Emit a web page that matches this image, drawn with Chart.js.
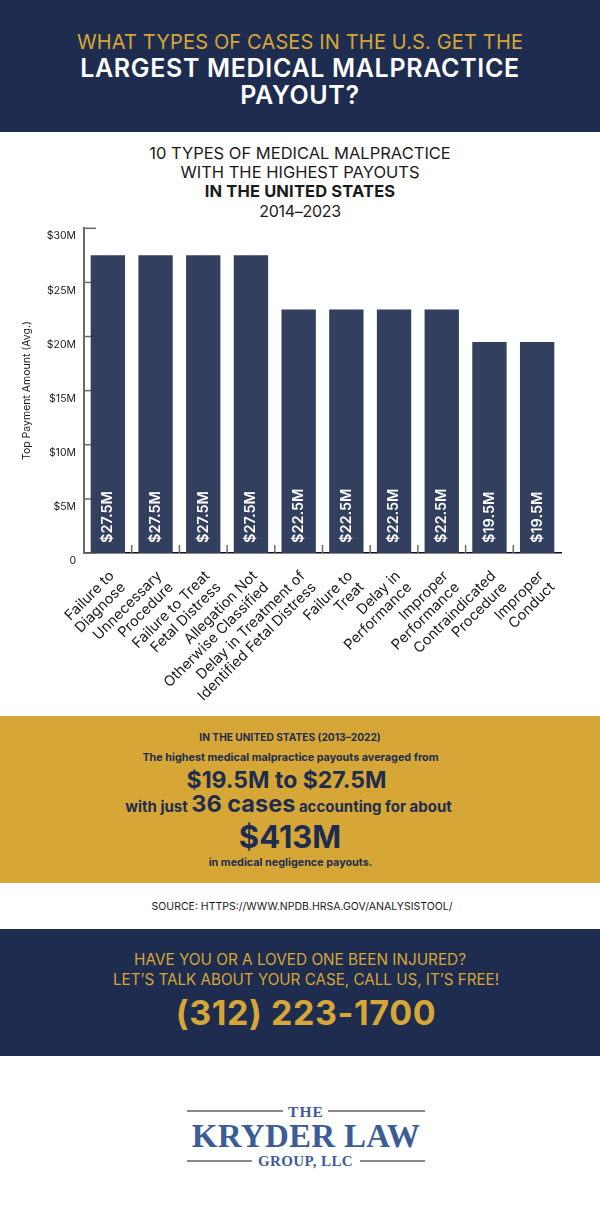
<!DOCTYPE html>
<html>
<head>
<meta charset="utf-8">
<title>Medical malpractice payouts</title>
<script src="https://cdn.jsdelivr.net/npm/chart.js@4"></script>
<style>
  html, body { margin: 0; padding: 0; background: #fff; }
  body { position: relative; width: 600px; height: 1219px; overflow: hidden; font-family: Inter, "Open Sans", sans-serif; }
  .band { position: absolute; left: 0; width: 600px; }
  .line { position: absolute; left: 0; width: 600px; text-align: center; white-space: nowrap; }
  #top { top: 0; height: 132px; background: #1e2d4f; }
  #gold { top: 716px; height: 167px; background: #d6a636; color: #1e2d4f; font-weight: 700; }
  #bottom { top: 929px; height: 127px; background: #1e2d4f; color: #d6a636; }
  #chartBox { position: absolute; left: 0; top: 222px; width: 600px; height: 490px; }
  .logo { font-family: "Liberation Serif", serif; font-weight: 700; color: #3c5c97; }
  .rule { position: absolute; height: 2px; background: #8a8a8a; }
</style>
</head>
<body>
<div class="band" id="top">
  <div class="line" style="top:30px;font-size:20px;color:#d6a636;letter-spacing:.15px">WHAT TYPES OF CASES IN THE U.S. GET THE</div>
  <div class="line" style="top:53px;font-size:25px;font-weight:600;color:#fff;letter-spacing:.67px">LARGEST MEDICAL MALPRACTICE</div>
  <div class="line" style="top:80px;font-size:25px;font-weight:600;color:#fff;letter-spacing:.67px">PAYOUT?</div>
</div>

<div class="line" style="top:143px;font-size:16.5px;color:#1a1a1a">10 TYPES OF MEDICAL MALPRACTICE</div>
<div class="line" style="top:162px;font-size:16.5px;color:#1a1a1a">WITH THE HIGHEST PAYOUTS</div>
<div class="line" style="top:181px;font-size:16.5px;font-weight:700;color:#1a1a1a;letter-spacing:.15px">IN THE UNITED STATES</div>
<div class="line" style="top:201px;font-size:16px;color:#1a1a1a;letter-spacing:-.3px">2014–2023</div>

<div id="chartBox"><canvas id="myChart" width="600" height="490"></canvas></div>

<div class="band" id="gold">
  <div class="line" style="top:15px;left:-10px;font-size:10.2px">IN THE UNITED STATES (2013–2022)</div>
  <div class="line" style="top:35px;left:-9.5px;font-size:10.8px">The highest medical malpractice payouts averaged from</div>
  <div class="line" style="top:50px;left:-13.5px;font-size:23px">$19.5M to $27.5M</div>
  <div class="line" style="top:74px;left:-11.5px;font-size:15px;line-height:28px">with just <span style="font-size:23.5px">36 cases</span> accounting for about</div>
  <div class="line" style="top:102px;left:-10px;font-size:31px">$413M</div>
  <div class="line" style="top:140px;left:-9.5px;font-size:10.8px">in medical negligence payouts.</div>
</div>

<div class="line" style="top:900px;left:2px;font-size:10.5px;color:#1a1a1a">SOURCE: HTTPS://WWW.NPDB.HRSA.GOV/ANALYSISTOOL/</div>

<div class="band" id="bottom">
  <div class="line" style="top:21px;font-size:15.3px">HAVE YOU OR A LOVED ONE BEEN INJURED?</div>
  <div class="line" style="top:41px;left:6px;font-size:15.2px">LET’S TALK ABOUT YOUR CASE, CALL US, IT’S FREE!</div>
  <div class="line" style="top:63px;left:6px;font-size:34px;font-weight:700;letter-spacing:.6px">(312) 223-1700</div>
</div>

<div class="rule" style="left:187px;top:1110px;width:96px"></div>
<div class="rule" style="left:328px;top:1110px;width:97px"></div>
<div class="rule" style="left:187px;top:1160px;width:65px"></div>
<div class="rule" style="left:360px;top:1160px;width:65px"></div>
<div class="line logo" style="top:1103px;left:6px;font-size:15.5px;letter-spacing:1.1px">THE</div>
<div class="line logo" style="top:1118px;left:6px;font-size:33px;letter-spacing:.3px">KRYDER LAW</div>
<div class="line logo" style="top:1153px;left:5.5px;font-size:15px;letter-spacing:.4px">GROUP, LLC</div>

<script>
// chart data
const categories = [
  ["Failure to", "Diagnose"],
  ["Unnecessary", "Procedure"],
  ["Failure to Treat", "Fetal Distress"],
  ["Allegation Not", "Otherwise Classified"],
  ["Delay in Treatment of", "Identified Fetal Distress"],
  ["Failure to", "Treat"],
  ["Delay in", "Performance"],
  ["Improper", "Performance"],
  ["Contraindicated", "Procedure"],
  ["Improper", "Conduct"],
];
const payouts = [27.5, 27.5, 27.5, 27.5, 22.5, 22.5, 22.5, 22.5, 19.5, 19.5];
const payoutLabels = ["$27.5M", "$27.5M", "$27.5M", "$27.5M", "$22.5M", "$22.5M", "$22.5M", "$22.5M", "$19.5M", "$19.5M"];
const yAxisTitle = "Top Payment Amount (Avg.)";

const chartFont = "Inter, 'Open Sans', sans-serif";

// small ticks that point into the plot
const innerTicks = {
  id: "innerTicks",
  beforeDatasetsDraw(chart) {
    const { ctx, scales } = chart;
    const x = scales.x;
    const y = scales.y;
    ctx.save();
    ctx.strokeStyle = "#6b6b6b";
    ctx.lineWidth = 1.5;
    y.ticks.forEach((t) => {
      const py = y.getPixelForValue(t.value);
      ctx.beginPath();
      ctx.moveTo(x.left, py);
      ctx.lineTo(x.left + 12, py);
      ctx.stroke();
    });
    for (let i = 1; i < categories.length; i++) {
      const px = (x.getPixelForValue(i - 1) + x.getPixelForValue(i)) / 2;
      ctx.beginPath();
      ctx.moveTo(px, y.bottom);
      ctx.lineTo(px, y.bottom - 8);
      ctx.stroke();
    }
    ctx.restore();
  },
};

// rotated values inside the bars
const barValues = {
  id: "barValues",
  afterDatasetsDraw(chart) {
    const { ctx } = chart;
    const base = chart.scales.y.bottom;
    ctx.save();
    ctx.fillStyle = "#ffffff";
    ctx.font = "600 14.5px " + chartFont;
    ctx.textAlign = "left";
    ctx.textBaseline = "middle";
    chart.getDatasetMeta(0).data.forEach((bar, i) => {
      ctx.save();
      ctx.translate(bar.x, base - 10);
      ctx.rotate(-Math.PI / 2);
      ctx.fillText(payoutLabels[i], 0, 0);
      ctx.restore();
    });
    ctx.restore();
  },
};

new Chart(document.getElementById("myChart"), {
  type: "bar",
  data: {
    labels: categories,
    datasets: [{ data: payouts, backgroundColor: "#333f5e", categoryPercentage: 1, barPercentage: 0.72 }],
  },
  plugins: [innerTicks, barValues],
  options: {
    responsive: false,
    animation: false,
    devicePixelRatio: 1,
    layout: { padding: { top: 1, right: 39, left: 0, bottom: 0 } },
    plugins: { legend: { display: false }, tooltip: { enabled: false } },
    scales: {
      x: {
        grid: { display: false },
        border: { color: "#111111", width: 1.5 },
        ticks: {
          autoSkip: false,
          minRotation: 45,
          maxRotation: 45,
          padding: 7,
          labelOffset: 4,
          color: "#1a1a1a",
          font: { family: chartFont, size: 14.5, lineHeight: 1.1 },
        },
        afterFit(scale) { scale.height = 159; },
      },
      y: {
        min: 0,
        max: 30,
        grid: { display: false },
        border: { color: "#6b6b6b", width: 2 },
        ticks: {
          stepSize: 5,
          padding: 0,
          labelOffset: 8,
          color: "#1a1a1a",
          font: { family: chartFont, size: 10.5 },
          callback: (v) => (v === 0 ? "0" : "$" + v + "M"),
        },
        title: {
          display: true,
          text: yAxisTitle,
          color: "#1a1a1a",
          font: { family: chartFont, size: 10.5 },
          padding: { top: 21, bottom: 0 },
        },
        afterFit(scale) { scale.width = 84; },
      },
    },
  },
});
</script>
</body>
</html>
